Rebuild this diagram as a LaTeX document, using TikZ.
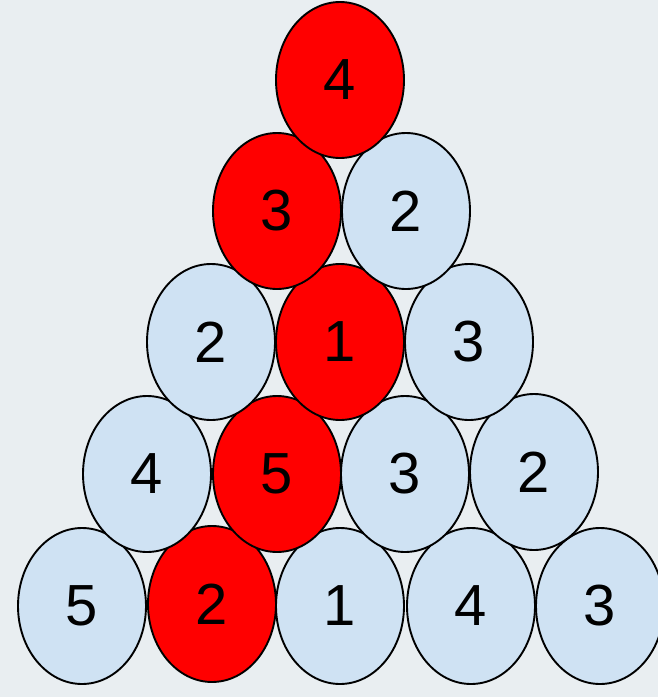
\documentclass[tikz,border=0pt]{standalone}
\usepackage{fontspec}
\setmainfont{Liberation Sans}
\usetikzlibrary{shapes.geometric}
\definecolor{paper}{HTML}{E9EEF1}
\definecolor{lightball}{HTML}{CFE2F3}
\definecolor{redball}{HTML}{FF0000}
\begin{document}
\begin{tikzpicture}[x=1pt, y=-1pt, every node/.style={ellipse, draw, line width=1.9pt, inner sep=0pt, minimum width=128pt, minimum height=156pt, font=\fontsize{58}{60}\selectfont}]
  \useasboundingbox (0, 0) rectangle (658, 697);
  \fill[paper] (0, 0) rectangle (658, 697);
  \clip (0, 0) rectangle (658, 697);

  % Bottom row
  \node[fill=lightball] (e1) at (82, 606) {5};
  \node[fill=redball] (e2) at (212, 604) {2};
  \node[fill=lightball] (e3) at (340, 606) {1};
  \node[fill=lightball] (e4) at (471, 606) {4};
  \node[fill=lightball] (e5) at (600, 606) {3};

  % Fourth row
  \node[fill=lightball] (d1) at (147, 474) {4};
  \node[fill=redball] (d2) at (277, 474) {5};
  \node[fill=lightball] (d3) at (405, 474) {3};
  \node[fill=lightball] (d4) at (534, 472) {2};

  % Third row
  \node[fill=lightball] (c1) at (211, 342) {2};
  \node[fill=redball] (c2) at (340, 342) {1};
  \node[fill=lightball] (c3) at (469, 342) {3};

  % Second row
  \node[fill=redball] (b1) at (277, 211) {3};
  \node[fill=lightball] (b2) at (406, 211) {2};

  % Top
  \node[fill=redball] (a1) at (340, 80) {4};
\end{tikzpicture}
\end{document}
